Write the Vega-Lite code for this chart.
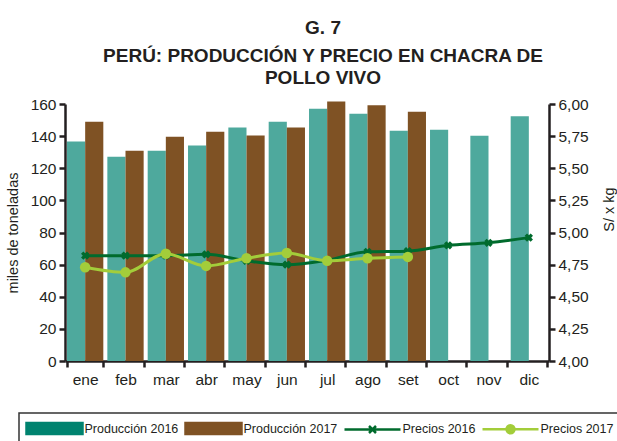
{
  "$schema": "https://vega.github.io/schema/vega-lite/v6.json",
  "width": 484,
  "height": 257,
  "autosize": {"type": "none"},
  "padding": {"left": 65, "top": 104, "right": 68, "bottom": 80},
  "background": "white",
  "title": {
    "text": "G. 7",
    "subtitle": ["PERÚ: PRODUCCIÓN Y PRECIO EN CHACRA DE", "POLLO VIVO"],
    "font": "Liberation Sans",
    "fontSize": 19,
    "fontWeight": "bold",
    "color": "#231F20",
    "subtitleFont": "Liberation Sans",
    "subtitleFontSize": 19,
    "subtitleFontWeight": "bold",
    "subtitleColor": "#231F20",
    "subtitleLineHeight": 22,
    "subtitlePadding": 9,
    "anchor": "middle",
    "dx": 16,
    "offset": 9
  },
  "datasets": {
    "prod": [
      {"mes": "ene", "serie": "Producción 2016", "valor": 136.7},
      {"mes": "feb", "serie": "Producción 2016", "valor": 127.1},
      {"mes": "mar", "serie": "Producción 2016", "valor": 130.9},
      {"mes": "abr", "serie": "Producción 2016", "valor": 134.2},
      {"mes": "may", "serie": "Producción 2016", "valor": 145.4},
      {"mes": "jun", "serie": "Producción 2016", "valor": 149.0},
      {"mes": "jul", "serie": "Producción 2016", "valor": 157.1},
      {"mes": "ago", "serie": "Producción 2016", "valor": 154.0},
      {"mes": "set", "serie": "Producción 2016", "valor": 143.4},
      {"mes": "oct", "serie": "Producción 2016", "valor": 144.0},
      {"mes": "nov", "serie": "Producción 2016", "valor": 140.2},
      {"mes": "dic", "serie": "Producción 2016", "valor": 152.3},
      {"mes": "ene", "serie": "Producción 2017", "valor": 149.0},
      {"mes": "feb", "serie": "Producción 2017", "valor": 130.9},
      {"mes": "mar", "serie": "Producción 2017", "valor": 139.6},
      {"mes": "abr", "serie": "Producción 2017", "valor": 142.7},
      {"mes": "may", "serie": "Producción 2017", "valor": 140.4},
      {"mes": "jun", "serie": "Producción 2017", "valor": 145.4},
      {"mes": "jul", "serie": "Producción 2017", "valor": 161.5},
      {"mes": "ago", "serie": "Producción 2017", "valor": 159.2},
      {"mes": "set", "serie": "Producción 2017", "valor": 155.2}
    ],
    "precio": [
      {"mes": "ene", "serie": "Precios 2016", "valor": 4.82},
      {"mes": "feb", "serie": "Precios 2016", "valor": 4.82},
      {"mes": "mar", "serie": "Precios 2016", "valor": 4.82},
      {"mes": "abr", "serie": "Precios 2016", "valor": 4.83},
      {"mes": "may", "serie": "Precios 2016", "valor": 4.78},
      {"mes": "jun", "serie": "Precios 2016", "valor": 4.75},
      {"mes": "jul", "serie": "Precios 2016", "valor": 4.785},
      {"mes": "ago", "serie": "Precios 2016", "valor": 4.85},
      {"mes": "set", "serie": "Precios 2016", "valor": 4.855},
      {"mes": "oct", "serie": "Precios 2016", "valor": 4.90},
      {"mes": "nov", "serie": "Precios 2016", "valor": 4.92},
      {"mes": "dic", "serie": "Precios 2016", "valor": 4.96},
      {"mes": "ene", "serie": "Precios 2017", "valor": 4.73},
      {"mes": "feb", "serie": "Precios 2017", "valor": 4.69},
      {"mes": "mar", "serie": "Precios 2017", "valor": 4.835},
      {"mes": "abr", "serie": "Precios 2017", "valor": 4.74},
      {"mes": "may", "serie": "Precios 2017", "valor": 4.80},
      {"mes": "jun", "serie": "Precios 2017", "valor": 4.84},
      {"mes": "jul", "serie": "Precios 2017", "valor": 4.78},
      {"mes": "ago", "serie": "Precios 2017", "valor": 4.80},
      {"mes": "set", "serie": "Precios 2017", "valor": 4.81}
    ]
  },
  "config": {
    "view": {"stroke": null},
    "axis": {
      "grid": false,
      "domainColor": "#231F20",
      "domainWidth": 2.5,
      "tickColor": "#231F20",
      "tickWidth": 2.5,
      "tickSize": 6,
      "labelFont": "Liberation Sans",
      "labelFontSize": 15.5,
      "labelColor": "#231F20",
      "labelOverlap": false,
      "titleFont": "Liberation Sans",
      "titleFontSize": 14.5,
      "titleFontWeight": "normal",
      "titleColor": "#231F20"
    }
  },
  "resolve": {"scale": {"y": "independent"}},
  "layer": [
    {
      "data": {"name": "prod"},
      "mark": {"type": "bar"},
      "encoding": {
        "x": {
          "field": "mes", "type": "nominal",
          "sort": ["ene","feb","mar","abr","may","jun","jul","ago","set","oct","nov","dic"],
          "scale": {"paddingInner": 0.1, "paddingOuter": 0.05},
          "axis": {
            "title": null, "labelAngle": 0, "tickBand": "extent",
            "labelPadding": 5,
            "encode": {"ticks": {"update": {"y": {"value": -5}, "y2": {"value": 6}}}}
          }
        },
        "xOffset": {"field": "serie", "type": "nominal", "scale": {"paddingInner": 0}},
        "y": {
          "field": "valor", "type": "quantitative",
          "scale": {"domain": [0, 160]},
          "axis": {
            "title": "miles de toneladas",
            "values": [0, 20, 40, 60, 80, 100, 120, 140, 160],
            "labelPadding": 3,
            "labelDy": 2,
            "titlePadding": 10,
            "encode": {"ticks": {"update": {"x": {"value": -6}, "x2": {"value": 6}}}}
          }
        },
        "fill": {
          "field": "serie", "type": "nominal",
          "scale": {
            "domain": ["Producción 2016", "Producción 2017"],
            "range": ["#4EA99D", "#7F5224"]
          },
          "legend": null
        }
      }
    },
    {
      "data": {"name": "precio"},
      "encoding": {
        "x": {"field": "mes", "type": "nominal", "sort": ["ene","feb","mar","abr","may","jun","jul","ago","set","oct","nov","dic"]},
        "y": {
          "field": "valor", "type": "quantitative",
          "scale": {"domain": [4, 6]},
          "axis": {
            "orient": "right",
            "title": "S/ x kg",
            "titleAngle": 270,
            "titleY": 105,
            "titleBaseline": "bottom",
            "titlePadding": 28,
            "values": [4, 4.25, 4.5, 4.75, 5, 5.25, 5.5, 5.75, 6],
            "labelExpr": "replace(format(datum.value, '.2f'), '.', ',')",
            "labelPadding": 3,
            "labelDy": 1.5,
            "labelOverlap": false,
            "encode": {"ticks": {"update": {"x": {"value": -6}, "x2": {"value": 6}}}}
          }
        },
        "color": {
          "field": "serie", "type": "nominal",
          "scale": {
            "domain": ["Producción 2016", "Producción 2017", "Precios 2016", "Precios 2017"],
            "range": ["#00836F", "#7F5224", "#006B2D", "#A3CD3A"]
          },
          "legend": {
            "title": null,
            "orient": "none",
            "legendX": -46,
            "legendY": 309,
            "direction": "horizontal",
            "columns": 4,
            "padding": 6,
            "columnPadding": 1,
            "labelOffset": 0.5,
            "symbolSize": 3136,
            "symbolStrokeWidth": 2.5,
            "labelFont": "Liberation Sans",
            "labelFontSize": 12.5,
            "labelColor": "#231F20",
            "labelLimit": 200,
            "strokeColor": "#333333",
            "encode": {
              "legend": {"update": {"strokeWidth": {"value": 1.5}}},
              "labels": {"update": {"dy": {"value": -20}}},
              "symbols": {
                "update": {
                  "shape": {"signal": "indexof(datum.value, 'Producción') >= 0 ? 'M-1,-0.91H1V-0.518H-1Z' : datum.value === 'Precios 2016' ? 'M-1,-0.714H1M-0.125,-0.839L0.125,-0.589M-0.125,-0.589L0.125,-0.839' : 'M-1,-0.714H1M-0.143,-0.714A0.143,0.143 0 1,0 0.143,-0.714A0.143,0.143 0 1,0 -0.143,-0.714'"},
                  "fill": {"signal": "datum.value === 'Producción 2016' ? '#00836F' : datum.value === 'Producción 2017' ? '#7F5224' : datum.value === 'Precios 2017' ? '#A3CD3A' : 'transparent'"},
                  "stroke": {"signal": "datum.value === 'Precios 2016' ? '#006B2D' : datum.value === 'Precios 2017' ? '#A3CD3A' : 'transparent'"},
                  "strokeWidth": {"value": 2.5},
                  "opacity": {"value": 1},
                  "fillOpacity": {"value": 1},
                  "strokeOpacity": {"value": 1}
                }
              }
            }
          }
        }
      },
      "layer": [
        {
          "mark": {"type": "line", "interpolate": "monotone", "strokeWidth": 3}
        },
        {
          "transform": [{"filter": "datum.serie === 'Precios 2016'"}],
          "mark": {"type": "point", "shape": "cross", "angle": 45, "filled": true, "size": 70, "opacity": 1}
        },
        {
          "transform": [{"filter": "datum.serie === 'Precios 2017'"}],
          "mark": {"type": "point", "shape": "circle", "filled": true, "size": 110, "opacity": 1}
        }
      ]
    }
  ]
}
